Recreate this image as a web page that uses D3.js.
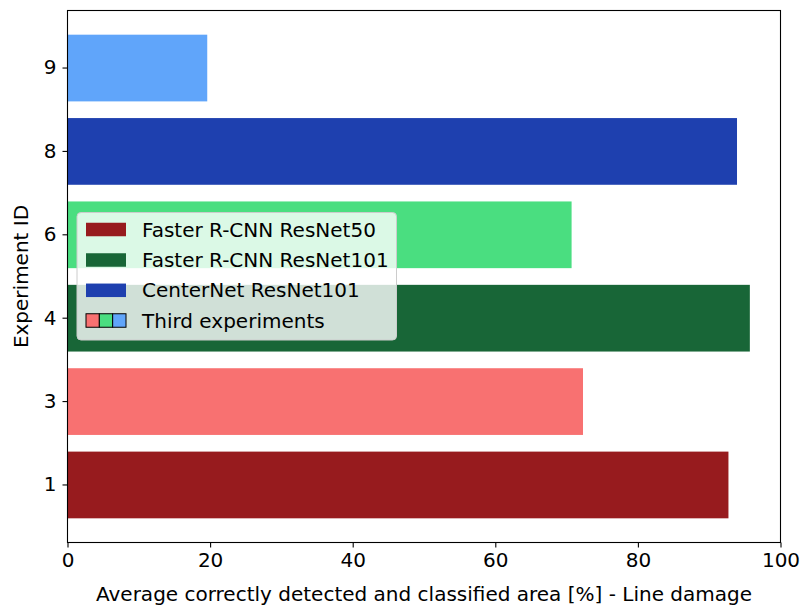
<!DOCTYPE html>
<html>
<head>
<meta charset="utf-8">
<script src="https://cdn.jsdelivr.net/npm/d3@7"></script>
<style>
  html, body { margin: 0; padding: 0; background: #fff; }
  svg { display: block; font-family: "DejaVu Sans", sans-serif; }
</style>
</head>
<body>
<svg id="chart" width="803" height="607"></svg>
<script>
// ---- data ----
const experimentIds = ["1", "3", "4", "6", "8", "9"];
const areaValues = [92.7, 72.3, 95.7, 70.7, 93.9, 19.6];
const barColors = ["#971b1e", "#f87171", "#186637", "#4ade80", "#1e40af", "#60a5fa"];
const xTicks = [0, 20, 40, 60, 80, 100];
const legendLabels = ["Faster R-CNN ResNet50", "Faster R-CNN ResNet101", "CenterNet ResNet101", "Third experiments"];
const legendColors = ["#971b1e", "#186637", "#1e40af"];
const thirdColors = ["#f87171", "#4ade80", "#60a5fa"];
const xLabel = "Average correctly detected and classified area [%] - Line damage";
const yLabel = "Experiment ID";

(function () {
const svg = d3.select("#chart");
const pL = 67.5, pR = 780.5, pT = 10.5, pB = 542.5;
const fs = 20;

const x = d3.scaleLinear().domain([0, 100]).range([pL, pR]);
const y = d3.scaleBand().domain(experimentIds.slice().reverse())
  .range([pT, pB]).paddingInner(0.2).paddingOuter(0.29);

// bars
svg.append("g").selectAll("rect").data(experimentIds).join("rect")
  .attr("x", x(0))
  .attr("y", d => y(d))
  .attr("width", (d, i) => x(areaValues[i]) - x(0))
  .attr("height", y.bandwidth())
  .attr("fill", (d, i) => barColors[i]);

// frame
svg.append("rect").attr("x", pL).attr("y", pT)
  .attr("width", pR - pL).attr("height", pB - pT)
  .attr("fill", "none").attr("stroke", "#000").attr("stroke-width", 1.1);

// x axis
const xAxis = svg.append("g").attr("transform", `translate(0,${pB})`)
  .call(d3.axisBottom(x).tickValues(xTicks).tickSize(5).tickPadding(5).tickFormat(d3.format("d")));
xAxis.select(".domain").remove();
xAxis.selectAll("text").attr("font-size", fs).attr("font-family", "DejaVu Sans").attr("fill", "#000");
xAxis.selectAll("line").attr("stroke", "#000").attr("stroke-width", 1.1);

// y axis
const yAxis = svg.append("g").attr("transform", `translate(${pL},0)`)
  .call(d3.axisLeft(y).tickSize(5).tickPadding(6));
yAxis.select(".domain").remove();
yAxis.selectAll("text").attr("font-size", fs).attr("font-family", "DejaVu Sans").attr("fill", "#000");
yAxis.selectAll("line").attr("stroke", "#000").attr("stroke-width", 1.1);

// axis labels
svg.append("text").attr("x", (pL + pR) / 2).attr("y", 594)
  .attr("text-anchor", "middle").attr("dominant-baseline", "central")
  .attr("font-size", fs).text(xLabel);
svg.append("text").attr("transform", `translate(21,${(pT + pB) / 2}) rotate(-90)`)
  .attr("text-anchor", "middle").attr("dominant-baseline", "central")
  .attr("font-size", fs).text(yLabel);

// legend
const lg = svg.append("g");
lg.append("rect").attr("x", 77).attr("y", 212.5).attr("width", 319.5).attr("height", 127.5)
  .attr("rx", 4).attr("fill", "#fff").attr("fill-opacity", 0.8)
  .attr("stroke", "#cccccc").attr("stroke-width", 1);
const rowY = [229.5, 260, 290.3, 320.5];
const sw = 40, sh = 13.5, sx = 86;
legendLabels.forEach((lab, i) => {
  const cy = rowY[i];
  if (i < 3) {
    lg.append("rect").attr("x", sx).attr("y", cy - sh / 2).attr("width", sw).attr("height", sh)
      .attr("fill", legendColors[i]);
  } else {
    thirdColors.forEach((c, j) => {
      lg.append("rect").attr("x", sx + j * sw / 3).attr("y", cy - sh / 2)
        .attr("width", sw / 3).attr("height", sh)
        .attr("fill", c).attr("stroke", "#000").attr("stroke-width", 1);
    });
  }
  lg.append("text").attr("x", 142).attr("y", cy).attr("dominant-baseline", "central")
    .attr("font-size", fs).attr("fill", "#000").text(lab);
});
})();
</script>
</body>
</html>
